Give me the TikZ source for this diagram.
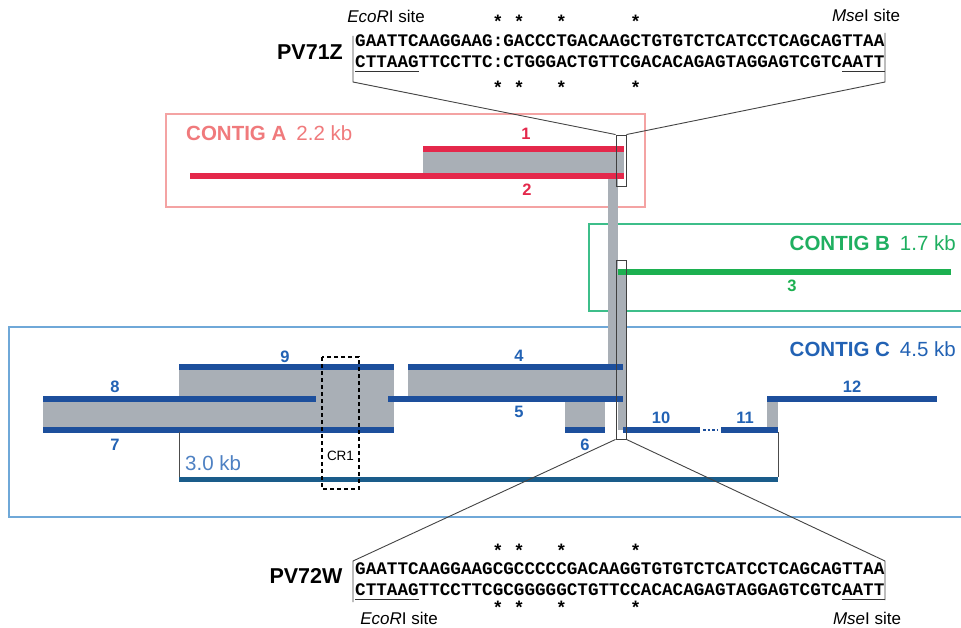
\documentclass[tikz,border=0pt]{standalone}
\usepackage{fontspec}
\setmainfont{Liberation Sans}
\newfontfamily\seqfont{Liberation Mono}
\usetikzlibrary{calc}
\definecolor{cred}{HTML}{E4284B}
\definecolor{cAbox}{HTML}{F4A3A3}
\definecolor{cAtxt}{HTML}{F07A7C}
\definecolor{cgreen}{HTML}{1CB050}
\definecolor{cBbox}{HTML}{3DBE8A}
\definecolor{cBtxt}{HTML}{1FAF60}
\definecolor{cblue}{HTML}{1D4F9C}
\definecolor{cCbox}{HTML}{6FA8D8}
\definecolor{cCtxt}{HTML}{2262B4}
\definecolor{cgray}{HTML}{A9AFB6}
\definecolor{cteal}{HTML}{1A5C8A}
\definecolor{clink}{HTML}{444444}
\begin{document}
\begin{tikzpicture}[x=1pt,y=-1pt,
  seqtext/.style={font=\seqfont\bfseries\fontsize{17.64}{20}\selectfont, inner sep=0pt, anchor=base west},
  starmark/.style={font=\bfseries\fontsize{18}{18}\selectfont, inner sep=0pt},
  numlab/.style={font=\bfseries\fontsize{16.5}{16.5}\selectfont, inner sep=0pt},
  sitelab/.style={font=\fontsize{17}{17}\selectfont, inner sep=0pt},
  pvlab/.style={font=\bfseries\fontsize{21.5}{21.5}\selectfont, inner sep=0pt},
  contiglab/.style={font=\fontsize{20.5}{21}\selectfont, inner sep=0pt},
  contigbox/.style={line width=1.3pt},
  clone/.style={line width=5.5pt},
  link/.style={draw=clink, line width=0.9pt},
  win/.style={draw=black!75, line width=0.9pt, inner sep=0pt, minimum width=10pt},
  ulinestyle/.style={draw=black!80, line width=1pt}]
\clip (0,0) rectangle (961,628);
\fill[white] (0,0) rectangle (961,628);

% contig boxes
\draw[contigbox, draw=cAbox] (166,114) rectangle (645,207);
\draw[contigbox, draw=cBbox] (589,224) rectangle (966,311);
\draw[contigbox, draw=cCbox] (9,327) rectangle (966,517);

% gray overlaps
\fill[cgray] (423,149) rectangle (624,176);
\fill[cgray] (608,176) rectangle (618,399);
\fill[cgray] (618,272) rectangle (626,430);
\fill[cgray] (408,367) rectangle (623,399);
\fill[cgray] (565,399) rectangle (605,430);
\fill[cgray] (767,399) rectangle (778,430);
\fill[cgray] (43,399) rectangle (394,430);
\fill[cgray] (179,367) rectangle (394,399);

% contig A clones
\draw[clone, cred] (423,149) -- (624,149);
\draw[clone, cred] (190,176) -- (624,176);
% contig B clone
\draw[clone, cgreen] (618,272) -- (951,272);
% contig C clones
\draw[clone, cblue] (179,367) -- (394,367);
\draw[clone, cblue] (408,367) -- (623,367);
\draw[clone, cblue] (43,399) -- (316,399);
\draw[clone, cblue] (388,399) -- (623,399);
\draw[clone, cblue] (767,399) -- (937,399);
\draw[clone, cblue] (43,430) -- (394,430);
\draw[clone, cblue] (565,430) -- (605,430);
\draw[clone, cblue] (623,430) -- (700,430);
\draw[cblue, line width=2.5pt, dotted] (703,430) -- (718,430);
\draw[clone, cblue] (721,430) -- (778,430);
\draw[clone, cteal, line width=5pt] (179,479) -- (778,479);
\draw[draw=black!70, line width=0.8pt] (179,432) -- (179,477);
\draw[draw=black!70, line width=0.8pt] (778,432) -- (778,477);

% CR1
\draw[dashed, line width=1.3pt, dash pattern=on 4pt off 3pt] (322,357) rectangle (359,489);
\node[font=\fontsize{13.5}{13.5}\selectfont, inner sep=0pt] (cr1) at (340.5,456) {CR1};

% windows
\node[win, minimum height=51pt] (winA) at (621,160.5) {};
\node[win, minimum height=179pt] (winB) at (621,349.5) {};

% number labels
\node[numlab, text=cred] (n1) at (526,134) {1};
\node[numlab, text=cred] (n2) at (527,190) {2};
\node[numlab, text=cgreen] (n3) at (792,286) {3};
\node[numlab, text=cCtxt] (n4) at (519,356) {4};
\node[numlab, text=cCtxt] (n5) at (519,412) {5};
\node[numlab, text=cCtxt] (n6) at (585,445) {6};
\node[numlab, text=cCtxt] (n7) at (115,445) {7};
\node[numlab, text=cCtxt] (n8) at (115,387) {8};
\node[numlab, text=cCtxt] (n9) at (285,357) {9};
\node[numlab, text=cCtxt] (n10) at (661,418) {10};
\node[numlab, text=cCtxt] (n11) at (745,418) {11};
\node[numlab, text=cCtxt] (n12) at (852,387) {12};
\node[contiglab, text=cCtxt!80!white, anchor=west] (kb30) at (185,463) {3.0 kb};

% contig labels
\node[contiglab, text=cAtxt, anchor=west] (labA) at (186,133) {\textbf{CONTIG A}\hspace{10pt}2.2 kb};
\node[contiglab, text=cBtxt, anchor=east] (labB) at (956,243) {\textbf{CONTIG B}\hspace{10pt}1.7 kb};
\node[contiglab, text=cCtxt, anchor=east] (labC) at (956,349) {\textbf{CONTIG C}\hspace{10pt}4.5 kb};

% top sequence PV71Z
\node[pvlab] (pv71) at (310,52) {PV71Z};
\node[seqtext] (s1) at (355,47) {GAATTCAAGGAAG:GACCCTGACAAGCTGTGTCTCATCCTCAGCAGTTAA};
\node[seqtext] (s2) at (355,68) {CTTAAGTTCCTTC:CTGGGACTGTTCGACACAGAGTAGGAGTCGTCAATT};
\draw[ulinestyle] ([yshift=-4pt]s2.base west) -- ++(63.5,0);
\draw[ulinestyle] ([yshift=-4pt]s2.base east) -- ++(-42.3,0);
\foreach \i/\xx in {a/497.9,b/519.1,c/561.4,d/635.5}{
  \node[starmark] (ts\i) at (\xx,21) {*};
  \node[starmark] (bs\i) at (\xx,87) {*};
}
\node[sitelab] (ecoT) at (386,16) {\textit{EcoR}I site};
\node[sitelab] (mseT) at (866,15) {\textit{Mse}I site};
\coordinate (tl1) at (353,36);
\coordinate (tl2) at (353,82);
\coordinate (tr1) at (885,33);
\coordinate (tr2) at (885,82);
\draw[link] (tl1) -- (tl2) -- (winA.north west);
\draw[link] (tr1) -- (tr2) -- (winA.north east);

% bottom sequence PV72W
\node[pvlab] (pv72) at (306,576) {PV72W};
\node[seqtext] (s3) at (355,574) {GAATTCAAGGAAGCGCCCCCGACAAGGTGTGTCTCATCCTCAGCAGTTAA};
\node[seqtext] (s4) at (355,595) {CTTAAGTTCCTTCGCGGGGGCTGTTCCACACAGAGTAGGAGTCGTCAATT};
\draw[ulinestyle] ([yshift=-4pt]s4.base west) -- ++(63.5,0);
\draw[ulinestyle] ([yshift=-4pt]s4.base east) -- ++(-42.3,0);
\foreach \i/\xx in {a/497.9,b/519.1,c/561.4,d/635.5}{
  \node[starmark] (ts2\i) at (\xx,550) {*};
  \node[starmark] (bs2\i) at (\xx,607) {*};
}
\node[sitelab] (ecoB) at (399,618) {\textit{EcoR}I site};
\node[sitelab] (mseB) at (867,618) {\textit{Mse}I site};
\coordinate (bl1) at (353,602);
\coordinate (bl2) at (353,561);
\coordinate (br1) at (885,600);
\coordinate (br2) at (885,561);
\draw[link] (bl1) -- (bl2) -- (winB.south west);
\draw[link] (br1) -- (br2) -- (winB.south east);
\end{tikzpicture}
\end{document}
